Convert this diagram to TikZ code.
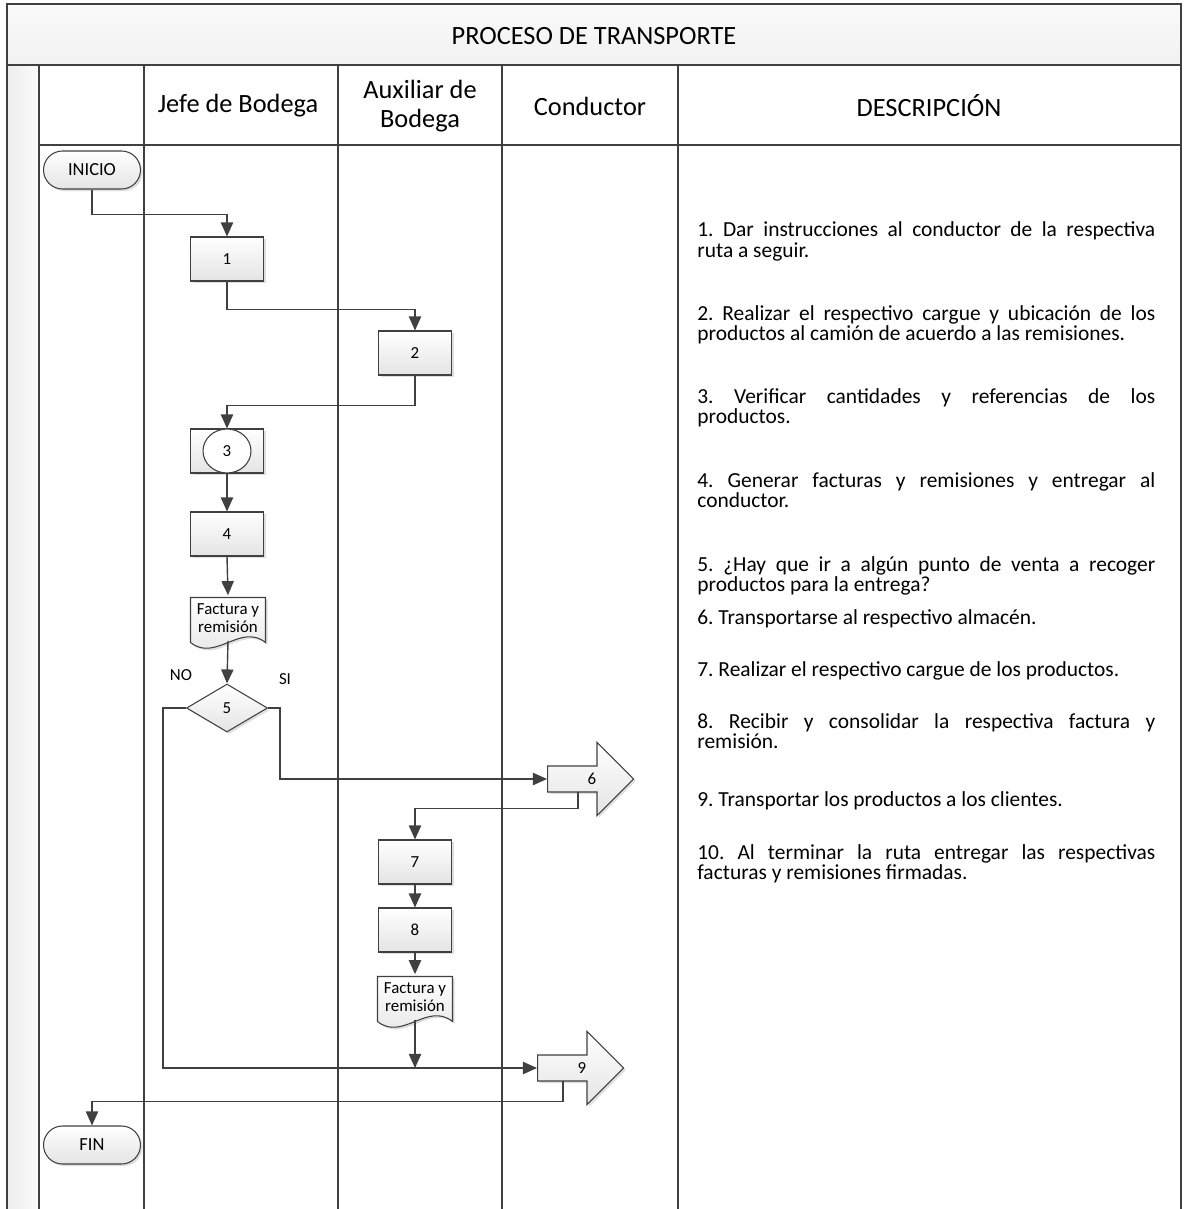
\documentclass[tikz,border=0pt]{standalone}
\usepackage{fontspec}
\setmainfont{Carlito}
\usetikzlibrary{arrows.meta,shapes.geometric,shapes.arrows,shadows,calc}

\definecolor{lin}{HTML}{404040}
\definecolor{shd}{HTML}{E4E4E4}
\hyphenpenalty=10000
\exhyphenpenalty=10000
\frenchspacing

% document symbol drawn round a centre given in px
\newcommand{\docshape}[2]{%
  \path[docline] (#1-37.5,#2-22.5) -- (#1+37.5,#2-22.5) -- (#1+37.5,#2+22.5)
    .. controls (#1+12.5,#2+2.5) and (#1-12.5,#2+42.5) .. (#1-37.5,#2+22.5) -- cycle;}

\begin{document}
\begin{tikzpicture}[x=0.02cm,y=-0.02cm,
  frame/.style={draw=lin,line width=1pt},
  conn/.style={draw=lin,line width=0.8pt,-{Triangle[length=8pt,width=7pt]}},
  softshadow/.style={drop shadow={shadow xshift=1.2pt,shadow yshift=-1.2pt,opacity=0.13,fill=black}},
  shapefill/.style={draw=lin,line width=0.6pt,top color=white,bottom color=shd,softshadow},
  small/.style={font=\fontsize{9.6}{10.3}\selectfont},
  procbox/.style={rectangle,shapefill,small,minimum width=1.46cm,minimum height=0.88cm,inner sep=0pt},
  termbox/.style={rectangle,rounded corners=0.38cm,shapefill,font=\fontsize{10.5}{12}\selectfont,
    minimum width=1.94cm,minimum height=0.76cm,inner sep=0pt},
  decbox/.style={diamond,shapefill,small,minimum width=1.62cm,minimum height=0.96cm,inner sep=0pt},
  docbox/.style={rectangle,small,minimum width=1.5cm,minimum height=0.9cm,inner sep=0pt,align=center},
  docline/.style={draw=lin,line width=0.6pt,top color=white,bottom color=shd,softshadow},
  movearrow/.style={single arrow,shapefill,small,anchor=tail,minimum height=1.72cm,
    single arrow head extend=0.47cm,text height=6.8pt,text depth=0pt,inner xsep=2pt,inner ysep=3.7pt},
  headtxt/.style={font=\fontsize{15}{16.5}\selectfont,align=center},
  desc/.style={anchor=base west,text width=9.16cm,align=justify,inner sep=0pt,
    font=\fontsize{12.2}{11.8}\selectfont}]
\useasboundingbox (0,0) rectangle (1190,1209);

% table
\fill[top color=gray!4,bottom color=gray!11] (7,4) rectangle (1181,65);
\fill[left color=gray!14,right color=gray!3] (7,65) rectangle (39,1209);
\draw[frame] (7,1209) -- (7,4) -- (1181,4) -- (1181,1209);
\draw[frame] (7,65) -- (1181,65);
\draw[frame] (39,145) -- (1181,145);
\foreach \xx in {39,144,338,502,678}
  \draw[frame] (\xx,65) -- (\xx,1209);

\node[headtxt] (title) at (594,36) {PROCESO DE TRANSPORTE};
\node[headtxt] (hjefe) at (238,106) {Jefe de Bodega};
\node[headtxt] (haux) at (420,106) {Auxiliar de\\Bodega};
\node[headtxt] (hcond) at (590,106) {Conductor};
\node[headtxt] (hdesc) at (929,106) {DESCRIPCIÓN};

% flow
\node[termbox] (ini) at (92,170) {INICIO};
\node[procbox] (b1) at (227,259) {1};
\node[procbox] (b2) at (415,353) {2};
\node[procbox] (b3) at (227,451) {};
\node[ellipse,draw=lin,line width=0.6pt,fill=white,small,
  minimum width=0.96cm,minimum height=0.88cm,inner sep=0pt] (c3) at (b3) {3};
\node[procbox] (b4) at (227,534) {4};
\docshape{228}{620}
\node[docbox] (d1) at (228,618) {Factura y\\remisión};
\node[decbox] (dec5) at (227,708) {5};
\node[small] (lblno) at (181,675) {NO};
\node[small] (lblsi) at (285,679) {SI};
\node[movearrow] (a6) at (547,779) {\hspace*{9pt}6};
\node[procbox] (b7) at (415,862) {7};
\node[procbox] (b8) at (415,930) {8};
\docshape{415}{999}
\node[docbox] (d2) at (415,997) {Factura y\\remisión};
\node[movearrow] (a9) at (537,1068) {\hspace*{9pt}9};
\node[termbox] (fin) at (92,1145) {FIN};

\draw[conn] (ini.south) -- ++(0,25) -| (b1.north);
\draw[conn] (b1.south) -- ++(0,28) -| (b2.north);
\draw[conn] (b2.south) -- ++(0,30) -| (b3.north);
\draw[conn] (b3.south) -- (b4.north);
\draw[conn] (b4.south) -- (d1.north);
\draw[conn] (d1.south) -- (dec5.north);
\draw[conn] (dec5.west) -- ++(-23,0) |- (a9.tail);
\draw[conn] (dec5.east) -- ++(12,0) |- (a6.tail);
\draw[conn] ($(a6.tail)+(31,12.5)$) -- ++(0,17) -| (b7.north);
\draw[conn] (b7.south) -- (b8.north);
\draw[conn] (b8.south) -- (d2.north);
\draw[conn] (d2.south) -- (d2.south |- a9.tail);
\draw[conn] ($(a9.tail)+(26,12.5)$) -- ++(0,21) -| (fin.north);

% description
\node[desc] (t1) at (697,237) {1. Dar instrucciones al conductor de la respectiva\linebreak ruta a seguir.};
\node[desc] (t2) at (697,320) {2. Realizar el respectivo cargue y ubicación de los\linebreak productos al camión de acuerdo a las remisiones.};
\node[desc] (t3) at (697,403) {3. Verificar cantidades y referencias de los\linebreak productos.};
\node[desc] (t4) at (697,487) {4. Generar facturas y remisiones y entregar al\linebreak conductor.};
\node[desc] (t5) at (697,571) {5. ¿Hay que ir a algún punto de venta a recoger\linebreak productos para la entrega?};
\node[desc] (t6) at (697,624) {6. Transportarse al respectivo almacén.};
\node[desc] (t7) at (697,676) {7. Realizar el respectivo cargue de los productos.};
\node[desc] (t8) at (697,728) {8. Recibir y consolidar la respectiva factura y\linebreak remisión.};
\node[desc] (t9) at (697,806) {9. Transportar los productos a los clientes.};
\node[desc] (t10) at (697,859) {10. Al terminar la ruta entregar las respectivas\linebreak facturas y remisiones firmadas.};
\end{tikzpicture}
\end{document}
